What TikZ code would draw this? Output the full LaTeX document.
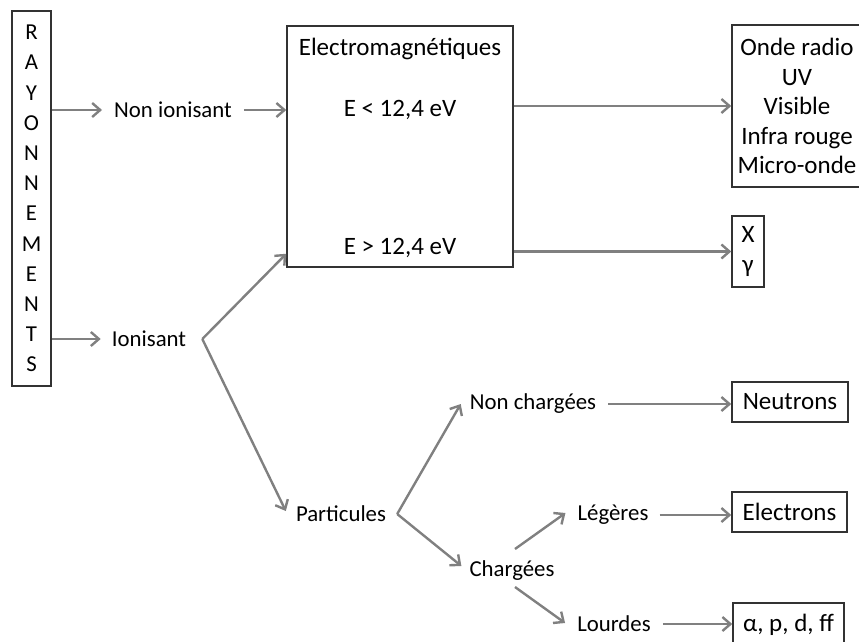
\documentclass[tikz,border=0pt]{standalone}
\usepackage{fontspec}
\setmainfont{Carlito}
\usetikzlibrary{arrows.meta}
\definecolor{arr}{RGB}{128,128,128}
\definecolor{bx}{RGB}{50,50,50}
\begin{document}
\begin{tikzpicture}[x=1pt,y=-1pt,
  font=\fontsize{22.8}{29.5}\selectfont,
  arrw/.style={draw=arr, line width=2.4pt, -{Straight Barb[length=8pt,width=14pt,line width=2.4pt]}},
  bxs/.style={draw=bx, line width=1.5pt, inner sep=0pt, font=\fontsize{25}{29.5}\selectfont},
  boxtxt/.style={inner sep=0pt, anchor=center, font=\fontsize{25}{29.5}\selectfont},
  lbl/.style={inner sep=0pt, anchor=center}]
\clip (0,0) rectangle (859,641);
\useasboundingbox (0,0) rectangle (859,641);

\node[bxs, minimum width=39pt, minimum height=375pt, align=center, font=\fontsize{22.8}{30.2}\selectfont] (ray) at (31.5,198.5) {R\\A\\Y\\O\\N\\N\\E\\M\\E\\N\\T\\S};

\node[lbl] (nonion) at (173,110) {Non ionisant};
\node[lbl] (ion) at (149,339) {Ionisant};

\node[bxs, minimum width=226pt, minimum height=241pt] (em) at (400,146.5) {};
\node[boxtxt] (emt) at (400,49) {Electromagnétiques};
\node[boxtxt] (elow) at (400,110) {E < 12,4 eV};
\node[boxtxt] (ehigh) at (400,248) {E > 12,4 eV};

\node[bxs, minimum width=130pt, minimum height=162pt, align=center] (onde) at (797,106) {Onde radio\\UV\\Visible\\Infra rouge\\Micro-onde};
\node[bxs, minimum width=32pt, minimum height=71pt, align=center] (xg) at (748,251.5) {X\\γ};

\node[lbl] (part) at (341,514) {Particules};
\node[lbl] (nch) at (533,404) {Non chargées};
\node[lbl] (ch) at (512,571) {Chargées};
\node[lbl] (leg) at (613,515) {Légères};
\node[lbl] (lou) at (614,624) {Lourdes};

\node[bxs, minimum width=116pt, minimum height=40pt] (neu) at (790,402) {Neutrons};
\node[bxs, minimum width=115pt, minimum height=40pt] (ele) at (789.5,512) {Electrons};
\node[bxs, minimum width=111pt, minimum height=44pt] (alp) at (788.5,625) {α, p, d, ff};

% connectors
\draw[arrw, shorten >=12pt] (ray.east |- nonion) -- (nonion.west);
\draw[arrw, shorten <=12pt] (nonion.east) -- (nonion.east -| em.west);
\draw[arrw] (em.east |- onde.west) -- (onde.west);
\draw[arrw] (em.east |- xg.west) -- (xg.west);
\draw[arrw, shorten >=11pt] (ray.east |- ion) -- (ion.west);

\path (ion.east) ++(16pt,0) coordinate (ionapex);
\draw[arrw] (ionapex) -- ([yshift=14pt]em.south west);
\draw[arrw] (ionapex) -- ([xshift=-10pt,yshift=3pt]part.west);

\path (part.east) ++(11pt,0) coordinate (partapex);
\draw[arrw] (partapex) -- ([xshift=-9pt]nch.west);
\draw[arrw] (partapex) -- ([xshift=-8pt,yshift=5pt]ch.west);

\draw[arrw] ([xshift=3pt,yshift=22pt]ch.center) -- ([xshift=-12pt,yshift=2pt]leg.west);
\draw[arrw] ([xshift=3pt,yshift=-16pt]ch.center) -- ([xshift=-12pt,yshift=1pt]lou.west);

\path (nch.east) ++(12pt,0) coordinate (nchE);
\draw[arrw] (nchE) -- (nchE -| neu.west);
\path (leg.east) ++(11pt,0) coordinate (legE);
\draw[arrw] (legE) -- (legE -| ele.west);
\path (lou.east) ++(12pt,0) coordinate (louE);
\draw[arrw] (louE) -- (louE -| alp.west);
\end{tikzpicture}
\end{document}
